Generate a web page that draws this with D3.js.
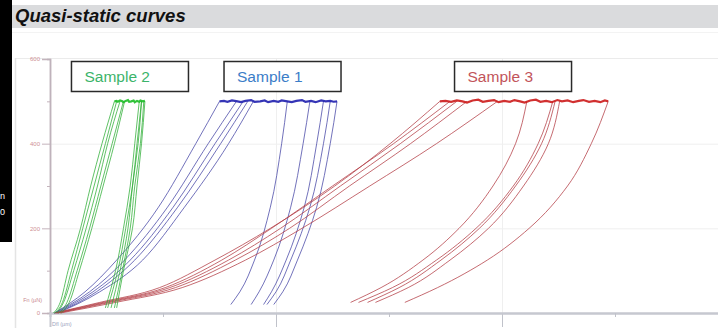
<!DOCTYPE html>
<html>
<head>
<meta charset="utf-8">
<script src="https://cdn.jsdelivr.net/npm/d3@7"></script>
<style>
  html, body { margin: 0; padding: 0; background: #ffffff; }
  svg { display: block; }
</style>
</head>
<body>
<svg id="chart" width="718" height="328"></svg>
<script>
// Force levels (µN) at which each curve was sampled
const loadF_s2 = [0, 25, 100, 200, 300, 400, 500];
const unloadF_s2 = [500, 400, 300, 200, 100, 12];
const loadF_s1 = [0, 50, 125, 250, 400, 500];
const unloadF_s1 = [500, 400, 250, 125, 50, 20];
const loadF_s3 = [0, 25, 60, 125, 200, 300, 400, 500];
const unloadF_s3 = [500, 400, 300, 200, 125, 60, 25];

// Sample 2: deflection (µm) on loading / unloading
const s2Load = [
  [0.03, 0.09, 0.16, 0.27, 0.36, 0.46, 0.57],
  [0.04, 0.11, 0.19, 0.29, 0.39, 0.49, 0.59],
  [0.06, 0.12, 0.21, 0.32, 0.42, 0.51, 0.62],
  [0.08, 0.15, 0.24, 0.35, 0.45, 0.55, 0.65],
  [0.10, 0.17, 0.26, 0.37, 0.47, 0.57, 0.66]
];
const s2Unload = [
  [0.79, 0.75, 0.71, 0.65, 0.58, 0.49],
  [0.81, 0.77, 0.73, 0.67, 0.60, 0.51],
  [0.81, 0.78, 0.73, 0.69, 0.62, 0.54],
  [0.83, 0.80, 0.75, 0.71, 0.64, 0.57],
  [0.84, 0.81, 0.77, 0.73, 0.65, 0.59]
];

// Sample 1
const s1Load = [
  [0.04, 0.31, 0.59, 0.96, 1.29, 1.50],
  [0.04, 0.35, 0.66, 1.04, 1.40, 1.65],
  [0.05, 0.38, 0.71, 1.09, 1.46, 1.71],
  [0.06, 0.41, 0.75, 1.13, 1.51, 1.75],
  [0.07, 0.44, 0.82, 1.19, 1.58, 1.80]
];
const s1Unload = [
  [2.10, 2.05, 1.95, 1.81, 1.68, 1.60],
  [2.30, 2.24, 2.13, 1.98, 1.85, 1.78],
  [2.42, 2.36, 2.25, 2.09, 1.96, 1.89],
  [2.48, 2.42, 2.30, 2.13, 2.00, 1.92],
  [2.54, 2.48, 2.36, 2.19, 2.06, 1.98]
];

// Sample 3
const s3Load = [
  [0.04, 0.44, 0.97, 1.46, 1.95, 2.52, 3.01, 3.45],
  [0.05, 0.47, 1.02, 1.52, 1.96, 2.50, 3.04, 3.54],
  [0.06, 0.50, 1.06, 1.58, 2.04, 2.57, 3.10, 3.60],
  [0.07, 0.53, 1.11, 1.64, 2.12, 2.65, 3.19, 3.69],
  [0.09, 0.58, 1.17, 1.73, 2.23, 2.83, 3.42, 3.96]
];
const s3Unload = [
  [4.22, 4.12, 3.92, 3.62, 3.30, 2.93, 2.66],
  [4.45, 4.32, 4.10, 3.77, 3.42, 3.03, 2.73],
  [4.47, 4.35, 4.12, 3.80, 3.46, 3.09, 2.81],
  [4.51, 4.41, 4.19, 3.88, 3.54, 3.17, 2.88],
  [4.94, 4.79, 4.58, 4.24, 3.87, 3.43, 3.14]
];

// Hold segments at peak force: [deflection, force]
const s2Hold = [[0.57, 500], [0.59, 501], [0.60, 499], [0.62, 502], [0.64, 500], [0.65, 498], [0.67, 501], [0.69, 503],
  [0.70, 499], [0.72, 500], [0.74, 502], [0.75, 498], [0.77, 501], [0.79, 499], [0.80, 502], [0.82, 500], [0.84, 501]];
const s1Hold = [[1.50, 500], [1.54, 501], [1.57, 499], [1.61, 502], [1.66, 500], [1.69, 498], [1.73, 501], [1.78, 503],
  [1.81, 499], [1.86, 500], [1.90, 502], [1.93, 498], [1.98, 501], [2.02, 499], [2.05, 502], [2.10, 500],
  [2.14, 498], [2.18, 501], [2.23, 503], [2.26, 499], [2.31, 501], [2.35, 498], [2.40, 502], [2.44, 500],
  [2.48, 501], [2.51, 499], [2.54, 500]];
const s3Hold = [[3.45, 500], [3.50, 501], [3.55, 499], [3.60, 502], [3.65, 500], [3.69, 497], [3.74, 502], [3.79, 504],
  [3.83, 499], [3.88, 501], [3.93, 503], [3.97, 498], [4.02, 501], [4.07, 499], [4.11, 503], [4.16, 500],
  [4.20, 497], [4.25, 502], [4.30, 504], [4.34, 499], [4.39, 501], [4.44, 498], [4.49, 503], [4.53, 500],
  [4.58, 502], [4.63, 498], [4.68, 501], [4.72, 503], [4.77, 499], [4.82, 501], [4.87, 498], [4.91, 502], [4.94, 500]];

const yMajor = [0, 200, 400, 600];
const yMinor = [100, 300, 500];
const xMajor = [2, 4];
const xMinor = [1, 3, 5];

const title = "Quasi-static curves";
const legendNames = ["Sample 2", "Sample 1", "Sample 3"];

const svg = d3.select("#chart");
const W = 718, H = 328;

// Side strip of the neighbouring panel
svg.append("rect").attr("x", 0).attr("y", 0).attr("width", 12).attr("height", 242).attr("fill", "#000");
svg.append("text").attr("x", 5).attr("y", 199).attr("text-anchor", "end")
  .attr("font-family", "Liberation Sans, Arial, sans-serif").attr("font-size", 9).attr("fill", "#fff").text("n");
svg.append("text").attr("x", 5).attr("y", 215).attr("text-anchor", "end")
  .attr("font-family", "Liberation Sans, Arial, sans-serif").attr("font-size", 9).attr("fill", "#fff").text("0");

// Title band
svg.append("rect").attr("x", 12).attr("y", 5).attr("width", W - 12).attr("height", 23).attr("fill", "#dadbdd");
svg.append("text").attr("x", 15).attr("y", 22)
  .attr("font-family", "Liberation Sans, Arial, sans-serif")
  .attr("font-weight", "bold").attr("font-style", "italic")
  .attr("font-size", 18.5).attr("fill", "#111").text(title);
svg.append("line").attr("x1", 12).attr("x2", W).attr("y1", 32.5).attr("y2", 32.5).attr("stroke", "#f3f3f3");

// Plot frame
svg.append("line").attr("x1", 15).attr("x2", W).attr("y1", 58.5).attr("y2", 58.5).attr("stroke", "#ebebeb");
svg.append("line").attr("x1", 15.5).attr("x2", 15.5).attr("y1", 58).attr("y2", H).attr("stroke", "#e4e4e4").attr("stroke-width", 1.5);

const x = d3.scaleLinear().domain([0, 6]).range([50, 728]);
const y = d3.scaleLinear().domain([0, 600]).range([313, 59]);

// Light grid
const grid = svg.append("g");
grid.selectAll("line.h").data([200, 400]).join("line")
  .attr("x1", 50).attr("x2", W).attr("y1", d => y(d) + 0.5).attr("y2", d => y(d) + 0.5)
  .attr("stroke", "#efefef");
grid.selectAll("line.v").data(xMajor).join("line")
  .attr("x1", d => x(d) + 0.5).attr("x2", d => x(d) + 0.5).attr("y1", 59).attr("y2", 313)
  .attr("stroke", "#efefef");

// Axes
const axisFont = "Liberation Sans, Arial, sans-serif";
const yAxis = svg.append("g").attr("transform", "translate(50,0)")
  .call(d3.axisLeft(y).tickValues(yMajor).tickSize(8).tickPadding(2).tickFormat(d3.format("d")));
const yMinorAxis = svg.append("g").attr("transform", "translate(50,0)")
  .call(d3.axisLeft(y).tickValues(yMinor).tickSize(3).tickFormat(""));
[yAxis, yMinorAxis].forEach(g => {
  g.select(".domain").attr("stroke", "#bfb2bb").attr("stroke-width", 1.5);
  g.selectAll(".tick line").attr("stroke", "#c4b4bc");
  g.selectAll("text").attr("fill", "#cf8f93").attr("font-size", 6).attr("font-family", axisFont);
});

const xAxis = svg.append("g").attr("transform", "translate(0,313)")
  .call(d3.axisBottom(x).tickValues(xMajor).tickSize(14).tickFormat(""));
const xMinorAxis = svg.append("g").attr("transform", "translate(0,313)")
  .call(d3.axisBottom(x).tickValues(xMinor).tickSize(4).tickFormat(""));
[xAxis, xMinorAxis].forEach(g => {
  g.select(".domain").attr("stroke", "#c6c8d0").attr("stroke-width", 2);
  g.selectAll(".tick line").attr("stroke", "#c0c2ca");
});

svg.append("text").attr("x", 42).attr("y", 302).attr("text-anchor", "end")
  .attr("font-family", axisFont).attr("font-size", 5.5).attr("fill", "#c98a8f").text("Fn (µN)");
svg.append("text").attr("x", 52).attr("y", 326)
  .attr("font-family", axisFont).attr("font-size", 5.5).attr("fill", "#9aa4be").text("Dfl (µm)");

// Loading branches are drawn monotone in deflection, unloading branches monotone in force
const loadLine = d3.line().x(d => x(d[0])).y(d => y(d[1])).curve(d3.curveMonotoneX);
const unloadLine = d3.line().x(d => x(d[0])).y(d => y(d[1])).curve(d3.curveMonotoneY);
const holdLine = d3.line().x(d => x(d[0])).y(d => y(d[1])).curve(d3.curveLinear);

function drawSample(load, loadF, unload, unloadF, hold, lineColor, holdColor) {
  const g = svg.append("g");
  load.forEach(xs => {
    const pts = xs.map((v, i) => [v, loadF[i]]).sort((a, b) => a[0] - b[0]);
    g.append("path").attr("d", loadLine(pts)).attr("fill", "none")
      .attr("stroke", lineColor).attr("stroke-width", 0.9).attr("stroke-opacity", 0.85);
  });
  unload.forEach(xs => {
    // sort by screen y (descending force) for the monotone-in-y curve
    const pts = xs.map((v, i) => [v, unloadF[i]]).sort((a, b) => b[1] - a[1]);
    g.append("path").attr("d", unloadLine(pts)).attr("fill", "none")
      .attr("stroke", lineColor).attr("stroke-width", 0.9).attr("stroke-opacity", 0.85);
  });
  g.append("path").attr("d", holdLine(hold)).attr("fill", "none")
    .attr("stroke", holdColor).attr("stroke-width", 2.2).attr("stroke-opacity", 0.9);
}

drawSample(s1Load, loadF_s1, s1Unload, unloadF_s1, s1Hold, "#4646a6", "#1f1fae");
drawSample(s3Load, loadF_s3, s3Unload, unloadF_s3, s3Hold, "#b33c45", "#cc1a1a");
drawSample(s2Load, loadF_s2, s2Unload, unloadF_s2, s2Hold, "#2eae36", "#1cbd26");

// Sample labels
const legendBoxes = [
  { name: legendNames[0], x0: 0.19, color: "#3cb46a" },
  { name: legendNames[1], x0: 1.54, color: "#3b7dc8" },
  { name: legendNames[2], x0: 3.58, color: "#c2545a" }
];
const lg = svg.append("g");
legendBoxes.forEach(b => {
  const bx = x(b.x0);
  lg.append("rect").attr("x", bx).attr("y", 61.5).attr("width", 117).attr("height", 30)
    .attr("fill", "#fff").attr("stroke", "#2a2a2a").attr("stroke-width", 1.5);
  lg.append("text").attr("x", bx + 13).attr("y", 82)
    .attr("font-family", "Liberation Sans, Arial, sans-serif").attr("font-size", 15.5)
    .attr("fill", b.color).text(b.name);
});
</script>
</body>
</html>
